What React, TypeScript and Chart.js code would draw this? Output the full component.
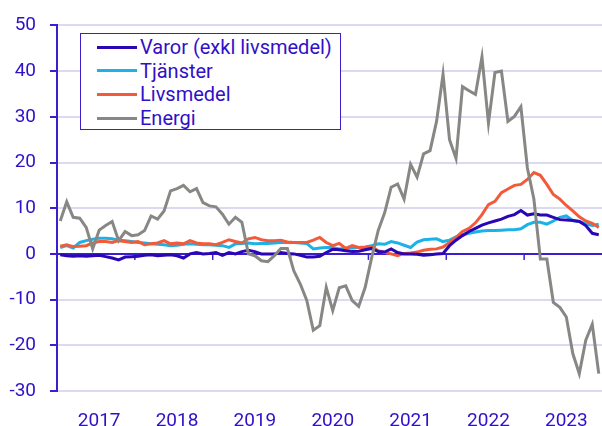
import React, { useEffect, useRef } from "react";
import { Chart, registerables } from "chart.js";

Chart.register(...registerables);

const years = [2017, 2018, 2019, 2020, 2021, 2022, 2023];
const categories: string[] = years.flatMap((y) =>
  Array.from({ length: 12 }, (_, m) => `${y}-${String(m + 1).padStart(2, "0")}`)
);

const seriesNames = ["Varor (exkl livsmedel)", "Tjänster", "Livsmedel", "Energi"];
const seriesColors = ["#2a06b4", "#1cb2e8", "#f25a3a", "#878784"];

const varor = [
  -0.2, -0.4, -0.5, -0.4, -0.5, -0.4, -0.3, -0.6, -0.9, -1.3, -0.7, -0.6,
  -0.5, -0.3, -0.2, -0.4, -0.3, -0.2, -0.4, -0.9, 0.0, 0.3, 0.0, 0.1,
  0.3, -0.3, 0.3, 0.0, 0.5, 0.8, 0.5, 0.0, 0.0, 0.0, 0.3, 0.1,
  0.0, -0.3, -0.7, -0.7, -0.5, 0.3, 1.0, 0.9, 0.7, 0.5, 0.6, 0.9,
  1.2, 0.5, 0.4, 1.1, 0.3, 0.0, 0.0, -0.1, -0.3, -0.2, 0.0, 0.1,
  1.8, 3.0, 4.0, 4.9, 5.6, 6.3, 6.8, 7.2, 7.6, 8.2, 8.6, 9.5,
  8.5, 8.8, 8.5, 8.5, 8.0, 7.5, 7.4, 7.3, 7.1, 6.2, 4.5, 4.2,
];

const tjanster = [
  1.4, 1.8, 1.3, 2.5, 2.9, 3.2, 3.4, 3.4, 3.3, 3.0, 2.9, 2.7,
  2.5, 2.4, 2.2, 2.1, 2.0, 1.8, 1.9, 2.1, 2.2, 2.1, 2.0, 2.0,
  1.9, 1.8, 1.4, 2.2, 2.3, 2.4, 2.2, 2.3, 2.3, 2.4, 2.5, 2.5,
  2.5, 2.4, 2.3, 1.1, 1.3, 1.4, 1.4, 1.1, 1.2, 1.3, 1.4, 1.5,
  1.8, 2.2, 2.1, 2.7, 2.4, 1.9, 1.4, 2.6, 3.1, 3.2, 3.3, 2.7,
  3.0, 3.7, 4.2, 4.5, 4.8, 5.0, 5.1, 5.1, 5.2, 5.3, 5.3, 5.5,
  6.4, 6.9, 6.9, 6.5, 7.2, 8.0, 8.3, 7.3, 7.1, 6.6, 6.2, 6.5,
];

const livsmedel = [
  1.7, 2.0, 1.6, 1.7, 1.8, 2.4, 2.7, 2.7, 2.5, 2.9, 2.7, 2.5,
  2.7, 2.0, 2.2, 2.4, 2.9, 2.2, 2.4, 2.2, 2.9, 2.4, 2.2, 2.2,
  2.0, 2.5, 3.1, 2.7, 2.4, 3.3, 3.6, 3.1, 2.9, 2.9, 3.0, 2.6,
  2.5, 2.5, 2.5, 3.0, 3.6, 2.5, 1.8, 2.3, 1.2, 1.8, 1.4, 1.4,
  1.6, 0.7, 0.3, 0.0, -0.4, 0.1, 0.2, 0.4, 0.8, 1.0, 1.1, 1.5,
  2.5, 3.6, 4.9, 5.6, 6.8, 8.6, 10.8, 11.5, 13.4, 14.2, 15.0, 15.2,
  16.3, 17.8, 17.2, 15.2, 13.0, 12.0, 10.6, 9.4, 8.1, 7.2, 6.7, 5.8,
];

const energi = [
  7.2, 11.4, 8.0, 7.8, 5.8, 1.1, 5.2, 6.2, 7.1, 2.9, 4.9, 4.0,
  4.2, 5.1, 8.3, 7.6, 9.4, 13.8, 14.3, 15.0, 13.6, 14.3, 11.2, 10.5,
  10.3, 8.7, 6.5, 8.0, 6.9, 0.0, -0.4, -1.5, -1.7, -0.4, 1.2, 1.2,
  -3.7, -6.6, -10.2, -16.7, -15.7, -7.3, -12.4, -7.4, -7.0, -10.2, -11.5, -7.3,
  -0.8, 5.1, 9.0, 14.6, 15.3, 12.0, 19.6, 16.8, 21.9, 22.6, 29.0, 39.3,
  25.0, 20.9, 36.6, 35.7, 34.9, 43.1, 28.6, 39.7, 40.0, 29.0, 30.1, 32.2,
  18.8, 12.0, -1.1, -1.1, -10.6, -11.7, -13.8, -21.8, -26.2, -18.9, -15.4, -26.2,
];

const seriesData = [varor, tjanster, livsmedel, energi];
const drawOrder = [1, 3, 2, 0];

const yMin = -30;
const yMax = 50;
const yStep = 10;

const INK = "#3010c8";
const AXIS = "#3a1ed0";
const GRID = "#dcdaf2";
const FONT = "Roboto";

const zeroLinePlugin = {
  id: "zeroLine",
  beforeDatasetsDraw(chart: any) {
    const { ctx, scales, chartArea } = chart;
    const x = scales.x;
    const y = scales.y;
    const y0 = y.getPixelForValue(0);
    ctx.save();
    ctx.strokeStyle = AXIS;
    ctx.lineWidth = 2;
    ctx.beginPath();
    ctx.moveTo(chartArea.left, y0);
    ctx.lineTo(chartArea.right, y0);
    ctx.stroke();
    ctx.lineWidth = 1.5;
    for (let i = 12; i < categories.length; i += 12) {
      const px = (x.getPixelForValue(i - 1) + x.getPixelForValue(i)) / 2;
      ctx.beginPath();
      ctx.moveTo(px, y0);
      ctx.lineTo(px, y0 + 6);
      ctx.stroke();
    }
    ctx.restore();
  },
};

export default function App() {
  const ref = useRef<HTMLCanvasElement | null>(null);

  useEffect(() => {
    if (!ref.current) return;
    const chart = new Chart(ref.current, {
      type: "line",
      data: {
        labels: categories,
        datasets: seriesNames.map((name, i) => ({
          label: name,
          data: seriesData[i],
          borderColor: seriesColors[i],
          backgroundColor: seriesColors[i],
          borderWidth: 3,
          pointRadius: 0,
          tension: 0,
          order: drawOrder[i],
        })),
      },
      options: {
        animation: false,
        responsive: false,
        devicePixelRatio: 1,
        layout: { padding: { top: 23, right: 0, left: 0, bottom: 0 } },
        plugins: {
          legend: { display: false },
          tooltip: { enabled: false },
        },
        scales: {
          x: {
            type: "category",
            offset: true,
            grid: { display: false },
            border: { display: false },
            afterFit: (s: any) => {
              s.height = 35;
              s.paddingLeft = 0;
              s.paddingRight = 0;
            },
            ticks: {
              autoSkip: false,
              maxRotation: 0,
              minRotation: 0,
              padding: 11,
              color: INK,
              font: { family: FONT, size: 19 },
              callback: (_v: any, idx: number) =>
                idx % 12 === 6 ? String(years[Math.floor(idx / 12)]) : "",
            },
          },
          y: {
            min: yMin,
            max: yMax,
            afterFit: (s: any) => {
              s.width = 57;
            },
            border: { display: true, color: AXIS, width: 2 },
            grid: {
              color: (c: any) => (c.tick && c.tick.value === 0 ? "rgba(0,0,0,0)" : GRID),
              lineWidth: 2,
              tickColor: AXIS,
              tickLength: 7,
              drawTicks: true,
            },
            ticks: {
              stepSize: yStep,
              padding: 14,
              color: INK,
              font: { family: FONT, size: 19 },
            },
          },
        },
      },
      plugins: [zeroLinePlugin],
    } as any);
    return () => chart.destroy();
  }, []);

  const rowCenters = [13, 36.5, 60, 84];

  return (
    <div style={{ position: "absolute", left: 0, top: 0, width: 602, height: 426, background: "#fff" }}>
      <canvas ref={ref} width={602} height={426} style={{ position: "absolute", left: 0, top: 0 }} />
      <div
        style={{
          position: "absolute",
          left: 80,
          top: 33,
          width: 259,
          height: 95,
          border: `1px solid ${AXIS}`,
          background: "#fff",
          fontFamily: FONT,
          fontSize: 20,
          color: INK,
        }}
      >
        {seriesNames.map((name, i) => (
          <div
            key={name}
            style={{
              position: "absolute",
              left: 16,
              top: rowCenters[i] - 12,
              height: 24,
              display: "flex",
              alignItems: "center",
              whiteSpace: "nowrap",
              lineHeight: "24px",
            }}
          >
            <span style={{ display: "inline-block", width: 40, height: 3, background: seriesColors[i], marginRight: 3 }} />
            <span>{name}</span>
          </div>
        ))}
      </div>
    </div>
  );
}
